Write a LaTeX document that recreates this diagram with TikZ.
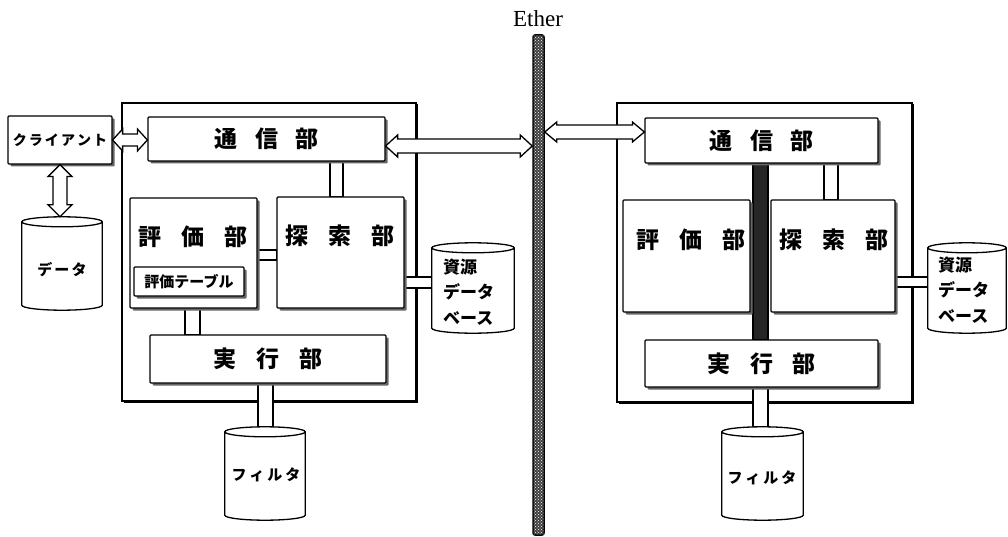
\documentclass[tikz,border=0pt]{standalone}
\usepackage{fontspec}
\newfontfamily\jp{Noto Sans CJK JP}
\newfontfamily\etherfont{Liberation Serif}
\usetikzlibrary{fit,shadows,patterns,calc}
\newcommand{\jg}{\hspace{0.15em}}
% horizontal double block arrow: #1 left end, #2 right end, #3 shaft half, #4 head half, #5 head length
\newcommand{\harr}[5]{%
  \draw[blockarrow] let \p1=(#1), \p2=(#2) in
    (\x1,\y1) -- (\x1+#5,\y1+#4) -- (\x1+#5,\y1+#3) -- (\x2-#5,\y1+#3) -- (\x2-#5,\y1+#4)
    -- (\x2,\y1) -- (\x2-#5,\y1-#4) -- (\x2-#5,\y1-#3) -- (\x1+#5,\y1-#3) -- (\x1+#5,\y1-#4) -- cycle;}
% vertical double block arrow: #1 top end, #2 bottom end
\newcommand{\varr}[5]{%
  \draw[blockarrow] let \p1=(#1), \p2=(#2) in
    (\x1,\y1) -- (\x1+#4,\y1-#5) -- (\x1+#3,\y1-#5) -- (\x1+#3,\y2+#5) -- (\x1+#4,\y2+#5)
    -- (\x1,\y2) -- (\x1-#4,\y2+#5) -- (\x1-#3,\y2+#5) -- (\x1-#3,\y1-#5) -- (\x1-#4,\y1-#5) -- cycle;}
% cylinder drawn round a named node
\newcommand{\cyl}[1]{%
  \draw[cylst] let \p1=(#1.north west), \p2=(#1.south east), \n1={(\x2-\x1)/2} in
    (\x1,\y1-5pt) -- (\x1,\y2+5pt) arc[start angle=180,end angle=360,x radius=\n1,y radius=5pt]
    -- (\x2,\y1-5pt) arc[start angle=0,end angle=180,x radius=\n1,y radius=5pt] -- cycle
    (\x1,\y1-5pt) arc[start angle=180,end angle=360,x radius=\n1,y radius=5pt];}
\begin{document}
\begin{tikzpicture}[x=1pt,y=1pt,
  outer/.style={draw, line width=1.3pt, fill=white, inner sep=0pt,
    drop shadow={shadow xshift=1.5pt, shadow yshift=-1.5pt, fill=black, opacity=1}},
  inbox/.style={draw, line width=1.2pt, fill=white, inner sep=0pt, rounded corners=1pt,
    drop shadow={shadow xshift=2.5pt, shadow yshift=-2.5pt, fill=black!60, opacity=1}},
  bar/.style={draw, line width=1.2pt, fill=white},
  darkbar/.style={draw, line width=1.2pt, fill=black!85},
  blockarrow/.style={draw, line width=1.3pt, fill=white, line join=miter},
  cylst/.style={draw, line width=1.3pt, fill=white},
  store/.style={inner sep=0pt},
  big/.style={inner sep=0pt, font=\jp\bfseries\fontsize{23}{24}\selectfont},
  mid/.style={inner sep=0pt, font=\jp\bfseries\fontsize{17}{25.5}\selectfont},
  small/.style={inner sep=0pt, font=\jp\bfseries\fontsize{14}{16}\selectfont},
  catk/.style={inner sep=0pt, font=\jp\bfseries\fontsize{15}{16}\selectfont},
]
\useasboundingbox (0,0) rectangle (1008,-537);

% ---------- Ether ----------
\node[draw, line width=1.5pt, rounded corners=2pt, fill=black!75,
      postaction={pattern=crosshatch dots, pattern color=white}, inner sep=0pt,
      fit={(533,-35) (544,-535)}] (ether) {};
\node[inner sep=0pt, font=\etherfont\fontsize{23}{24}\selectfont] (etherT) at (538,-19) {Ether};

% ---------- Left system ----------
\node[outer, fit={(122,-103) (416,-401)}] (outL) {};

% connectors (bars)
\draw[bar] (330,-161) rectangle (343,-197);
\draw[bar] (257,-250) rectangle (277,-260);
\draw[bar] (185,-308) rectangle (200,-335);
\draw[bar] (404,-277) rectangle (432,-288);
\draw[bar] (258,-383) rectangle (273,-427);

\node[inbox, fit={(8,-116) (112,-164)}] (client) {};
\node[inbox, fit={(148,-117) (385,-161)}] (tsL) {};
\node[inbox, fit={(130,-198) (257,-308)}] (hyL) {};
\node[inbox, fit={(134,-267) (244,-296)}] (tblL) {};
\node[inbox, fit={(277,-197) (404,-308)}] (tanL) {};
\node[inbox, fit={(150,-335) (386,-383)}] (jkL) {};

\node[store, fit={(22,-217) (102,-310)}] (data) {};
\cyl{data}
\node[store, fit={(432,-243) (514,-333)}] (resL) {};
\cyl{resL}
\node[store, fit={(225,-427) (305,-520)}] (filL) {};
\cyl{filL}

% block arrows
\coordinate (yEL) at (0,-146);
\coordinate (yER) at (0,-132);
\harr{client.east}{tsL.west |- client.east}{6pt}{11pt}{10pt}
\harr{tsL.east |- yEL}{ether.west |- yEL}{7pt}{11pt}{12pt}
\varr{client.south}{client.south |- data.north}{7pt}{12pt}{12pt}

% left texts
\node[small] (clientT) at (client.center) {ク\jg ラ\jg イ\jg ア\jg ン\jg ト};
\node[big] (tsLT) at (tsL.center) {通\hspace{0.75em}信\hspace{0.75em}部};
\node[big] (hyLT) at (193,-237) {評\hspace{0.85em}価\hspace{0.85em}部};
\node[catk] (tblLT) at (tblL.center) {評価テーブル};
\node[big] (tanLT) at (340,-236) {探\hspace{0.85em}索\hspace{0.85em}部};
\node[big] (jkLT) at (jkL.center) {実\hspace{0.85em}行\hspace{0.85em}部};
\node[catk] (dataT) at (62,-270) {デ\jg ー\jg タ};
\node[mid, align=left, anchor=west] (resLT) at (443,-292) {資源\\データ\\ベース};
\node[catk] (filLT) at (266,-475) {フ\hspace{0.2em}ィ\hspace{0.2em}ル\hspace{0.2em}タ};

% ---------- Right system ----------
\node[outer, fit={(617,-103) (912,-402)}] (outR) {};
\draw[darkbar] (753,-163) rectangle (768,-340);
\draw[bar] (824,-163) rectangle (838,-200);
\draw[bar] (895,-277) rectangle (928,-287);
\draw[bar] (753,-387) rectangle (768,-427);

\node[inbox, fit={(645,-118) (878,-163)}] (tsR) {};
\node[inbox, fit={(623,-200) (750,-312)}] (hyR) {};
\node[inbox, fit={(771,-200) (895,-312)}] (tanR) {};
\node[inbox, fit={(645,-340) (878,-387)}] (jkR) {};

\node[store, fit={(928,-243) (1006,-333)}] (resR) {};
\cyl{resR}
\node[store, fit={(722,-427) (803,-520)}] (filR) {};
\cyl{filR}

\harr{ether.east |- yER}{tsR.west |- yER}{7pt}{10pt}{12pt}

\node[big] (tsRT) at (tsR.center) {通\hspace{0.75em}信\hspace{0.75em}部};
\node[big] (hyRT) at (691,-240) {評\hspace{0.85em}価\hspace{0.85em}部};
\node[big] (tanRT) at (834,-240) {探\hspace{0.85em}索\hspace{0.85em}部};
\node[big] (jkRT) at (jkR.center) {実\hspace{0.85em}行\hspace{0.85em}部};
\node[mid, align=left, anchor=west] (resRT) at (938,-290) {資源\\データ\\ベース};
\node[catk] (filRT) at (762,-478) {フ\hspace{0.2em}ィ\hspace{0.2em}ル\hspace{0.2em}タ};
\end{tikzpicture}
\end{document}
